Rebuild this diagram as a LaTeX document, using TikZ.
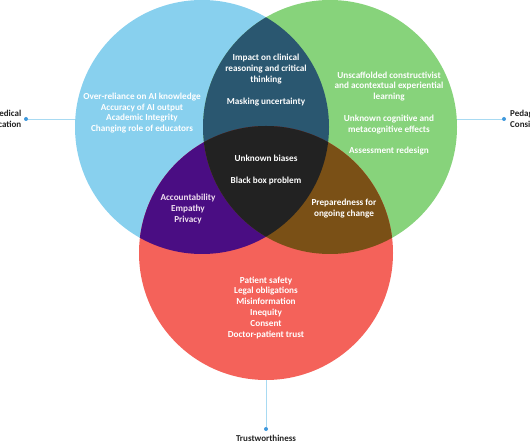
\documentclass[tikz,border=0pt]{standalone}
\usepackage{fontspec}
\setmainfont{Carlito}
\usetikzlibrary{positioning,calc}
\definecolor{edu}{HTML}{88D0EE}
\definecolor{ped}{HTML}{87D37B}
\definecolor{trust}{HTML}{F4625A}
\definecolor{edupeda}{HTML}{2A5770}
\definecolor{edutrust}{HTML}{4A0D83}
\definecolor{pedtrust}{HTML}{7A5016}
\definecolor{core}{HTML}{222222}
\definecolor{axisline}{HTML}{A8DAF2}
\definecolor{axisdot}{HTML}{3F98DC}
\definecolor{ink}{HTML}{222222}
\tikzset{
  setcircle/.style={circle,minimum size=254pt,inner sep=0pt,draw=none},
  settext/.style={font=\fontsize{9.2}{10.8}\selectfont\bfseries,text=white,align=center,inner sep=0pt},
  axistext/.style={font=\fontsize{9}{11}\selectfont\bfseries,text=ink,inner sep=0pt},
  axis/.style={draw=axisline,line width=0.9pt},
  axisend/.style={circle,fill=axisdot,minimum size=4pt,inner sep=0pt},
}

\begin{document}
\begin{tikzpicture}[x=1pt,y=-1pt]
\useasboundingbox (0,0) rectangle (530,443);

\coordinate (cEdu) at (202,127);
\coordinate (cPed) at (330,127);
\coordinate (cTru) at (266,253);

% axis ends
\node[axisend] (dotL) at (26,119) {};
\node[axisend] (dotR) at (504,119) {};
\node[axisend] (dotB) at (266,429) {};
\node[axistext,align=right,anchor=east] (labL) at (21.5,119) {Medical\\Education};
\node[axistext,align=left,anchor=west] (labR) at (510,119) {Pedagogical\\Considerations};
\node[axistext,anchor=north] (labB) at (266,434.5) {Trustworthiness};

% the three sets
\node[setcircle,fill=edu] (setEdu) at (cEdu) {};
\node[setcircle,fill=ped] (setPed) at (cPed) {};
\node[setcircle,fill=trust] (setTru) at (cTru) {};

\draw[axis] (dotL) -- (dotL -| setEdu.west);
\draw[axis] (dotR) -- (dotR -| setPed.east);
\draw[axis] (setTru.south) -- (dotB);

% overlaps
\begin{scope}
  \clip (cEdu) circle[radius=127];
  \fill[edupeda] (cPed) circle[radius=127];
  \fill[edutrust] (cTru) circle[radius=127];
\end{scope}
\begin{scope}
  \clip (cPed) circle[radius=127];
  \fill[pedtrust] (cTru) circle[radius=127];
  \clip (cEdu) circle[radius=127];
  \fill[core] (cTru) circle[radius=127];
\end{scope}

% texts
\node[settext] (tEdu) at (142,113) {Over-reliance on AI knowledge\\Accuracy of AI output\\Academic Integrity\\Changing role of educators};
\node[settext] (tEduPed) at (266,80) {Impact on clinical\\reasoning and critical\\thinking\\[10.8pt]Masking uncertainty};
\node[settext] (tPed) at (389,113.5) {Unscaffolded constructivist\\and acontextual experiential\\learning\\[10.8pt]Unknown cognitive and\\metacognitive effects\\[10.8pt]Assessment redesign};
\node[settext] (tCore) at (266,170) {Unknown biases\\[10.8pt]Black box problem};
\node[settext,text=white!88!violet] (tEduTru) at (188,209) {Accountability\\Empathy\\Privacy};
\node[settext] (tPedTru) at (344,208.5) {Preparedness for\\ongoing change};
\node[settext] (tTru) at (266,307.5) {Patient safety\\Legal obligations\\Misinformation\\Inequity\\Consent\\Doctor-patient trust};

\end{tikzpicture}
\end{document}
